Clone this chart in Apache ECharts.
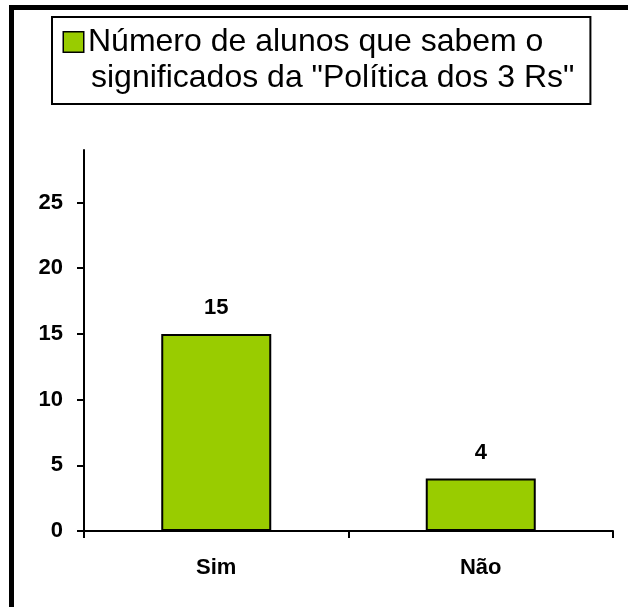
<!DOCTYPE html>
<html>
<head>
<meta charset="utf-8">
<title>Política dos 3 Rs</title>
<script src="https://cdn.jsdelivr.net/npm/echarts@6/dist/echarts.min.js"></script>
<style>
  html, body { margin: 0; padding: 0; background: #fff; }
  #chart { width: 628px; height: 607px; }
</style>
</head>
<body>
<div id="chart"></div>
<script>
// dados do gráfico
const categories = ['Sim', 'Não'];
const values = [15, 4];
const yTicks = [0, 5, 10, 15, 20, 25];
const seriesName = 'Número de alunos que sabem o significados da "Política dos 3 Rs"';
const legendLines = ['Número de alunos que sabem o', 'significados da "Política dos 3 Rs"'];

const font = '"Liberation Sans", Arial, sans-serif';
const green = '#99CC00';

const chart = echarts.init(document.getElementById('chart'));

let option = {
    animation: false,
    textStyle: { fontFamily: font, color: '#000' },
    graphic: [
        { // moldura externa
            type: 'rect',
            silent: true,
            shape: { x: 11.5, y: 7.5, width: 700, height: 700 },
            style: { fill: 'none', stroke: '#000', lineWidth: 5 }
        }
    ],
    legend: {
        left: 52,
        top: 17,
        orient: 'vertical',
        itemWidth: 0,
        itemHeight: 0,
        padding: [9, 16, 10, 6],
        borderColor: '#000',
        borderWidth: 2,
        selectedMode: false,
        data: [seriesName],
        formatter: function () {
            return '{sq|}{a|' + legendLines[0] + '}\n{b|' + legendLines[1] + '}';
        },
        textStyle: {
            rich: {
                sq: {
                    width: 19, height: 19,
                    backgroundColor: green,
                    borderColor: '#000', borderWidth: 1.5,
                    verticalAlign: 'middle'
                },
                a: { fontFamily: font, fontSize: 32, lineHeight: 36, color: '#000', padding: [0, 0, 0, 5] },
                b: { fontFamily: font, fontSize: 32, lineHeight: 36, color: '#000', padding: [0, 0, 0, 27] }
            }
        }
    },
    grid: { left: 84, right: 15, top: 150, bottom: 76, containLabel: false },
    xAxis: {
        type: 'category',
        data: categories,
        axisLine: { show: true, lineStyle: { color: '#000', width: 2 } },
        axisTick: { show: true, length: 7, lineStyle: { color: '#000', width: 2 } },
        axisLabel: { fontFamily: font, fontSize: 22, fontWeight: 'bold', color: '#000', margin: 26 }
    },
    yAxis: {
        type: 'value',
        min: 0,
        max: 29,
        interval: 5,
        splitLine: { show: false },
        axisLine: { show: true, lineStyle: { color: '#000', width: 2 } },
        axisTick: { show: true, length: 7, customValues: yTicks, lineStyle: { color: '#000', width: 2 } },
        axisLabel: { fontFamily: font, fontSize: 22, fontWeight: 'bold', color: '#000', margin: 21, customValues: yTicks }
    },
    series: [{
        name: seriesName,
        type: 'bar',
        data: values,
        barWidth: 110,
        itemStyle: { color: green, borderColor: '#000', borderWidth: 2 },
        label: {
            show: true,
            position: 'top',
            distance: 15,
            fontFamily: font,
            fontSize: 22,
            fontWeight: 'bold',
            color: '#000'
        }
    }]
};
chart.setOption(option);
</script>
</body>
</html>
